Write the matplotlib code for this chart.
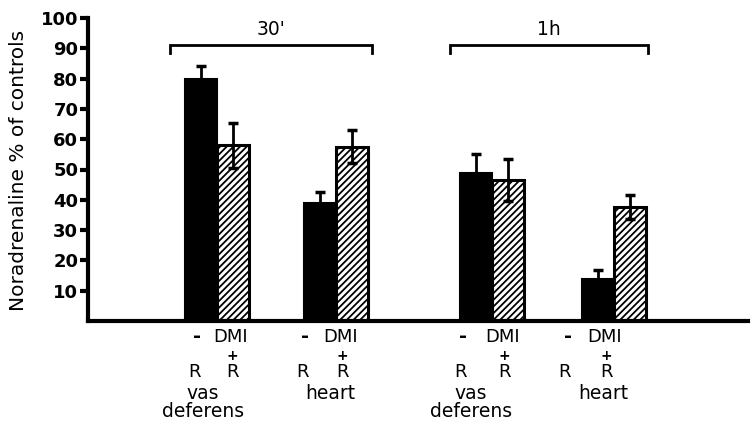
import matplotlib
matplotlib.use("Agg")
import matplotlib.pyplot as plt
import numpy as np

# ---- data ----
groups = ["vas\ndeferens", "heart", "vas\ndeferens", "heart"]
times = ["30'", "1h"]
r_only = [80, 39, 49, 14]          # black bars: - / R
dmi_r = [58, 57.5, 46.5, 37.5]     # hatched bars: DMI + R
r_only_err = [4, 3.5, 6, 2.7]
dmi_r_err = [7.5, 5.5, 7, 4]
yticks = [10, 20, 30, 40, 50, 60, 70, 80, 90, 100]

W, H = 755, 428
fig = plt.figure(figsize=(W / 100, H / 100), dpi=100)
plt.rcParams['hatch.linewidth'] = 1.3
FONT = "DejaVu Sans"

# axes in pixel layout: left 88, right 748, top 18, bottom 321
ax = fig.add_axes([88 / W, 1 - 321 / H, 660 / W, (321 - 18) / H])
ax.set_xlim(0, 660)
ax.set_ylim(0, 100)

pair_centers = np.array([129, 247.5, 404, 526])
bw = 32

ax.bar(pair_centers - bw / 2, r_only, width=bw, color="black", edgecolor="black", linewidth=1.5, zorder=2)
ax.bar(pair_centers + bw / 2, dmi_r, width=bw, color="white", edgecolor="black", linewidth=2.2,
       hatch="/////", zorder=2)
ax.errorbar(pair_centers - bw / 2, r_only, yerr=r_only_err, fmt="none", ecolor="black",
            elinewidth=2, capsize=3.5, capthick=2.5, zorder=3)
ax.errorbar(pair_centers + bw / 2, dmi_r, yerr=dmi_r_err, fmt="none", ecolor="black",
            elinewidth=2, capsize=3.5, capthick=2.5, zorder=3)

for s in ["top", "right"]:
    ax.spines[s].set_visible(False)
ax.spines["left"].set_linewidth(3)
ax.spines["bottom"].set_linewidth(3)
ax.set_xticks([])
ax.set_yticks(yticks)
ax.set_yticklabels([str(v) for v in yticks], fontsize=13, fontweight="bold", family=FONT)
ax.tick_params(axis="y", direction="out", length=6, width=3, pad=1)

def ftxt(px, py, s, **kw):
    kw.setdefault("ha", "center")
    kw.setdefault("va", "center")
    fig.text(px / W, 1 - py / H, s, family=FONT, **kw)

ftxt(19, 170, "Noradrenaline % of controls", fontsize=14.5, rotation=90)

# brackets for time points
brackets = [(170 - 88, 372 - 88), (450 - 88, 648 - 88)]
for (x0, x1), t in zip(brackets, times):
    ax.plot([x0, x0, x1, x1], [88.5, 91, 91, 88.5], color="black", lw=2, clip_on=False,
            solid_joinstyle="miter")
    ax.text((x0 + x1) / 2, 93, t, ha="center", va="bottom", fontsize=13.5, family=FONT)

# bottom labels (pixel positions)
black_lab_x = [197, 305, 463, 568]
hatch_lab_x = [231, 341, 503, 605]
organ_x = [203, 330, 471, 603]
for i in range(4):
    ftxt(black_lab_x[i], 336, "-", fontsize=14, fontweight="bold")
    ftxt(hatch_lab_x[i], 337, "DMI", fontsize=13)
    ftxt(hatch_lab_x[i] + 1, 356, "+", fontsize=10, fontweight="bold")
    ftxt(black_lab_x[i] - 3, 372, "R", fontsize=13)
    ftxt(hatch_lab_x[i] + 1, 372, "R", fontsize=13)
    # organ label: one multi-line text, top aligned
    ftxt(organ_x[i], 384, groups[i], fontsize=13.5, va="top", linespacing=0.95,
         multialignment="center")

fig.savefig("out.png", dpi=100)
